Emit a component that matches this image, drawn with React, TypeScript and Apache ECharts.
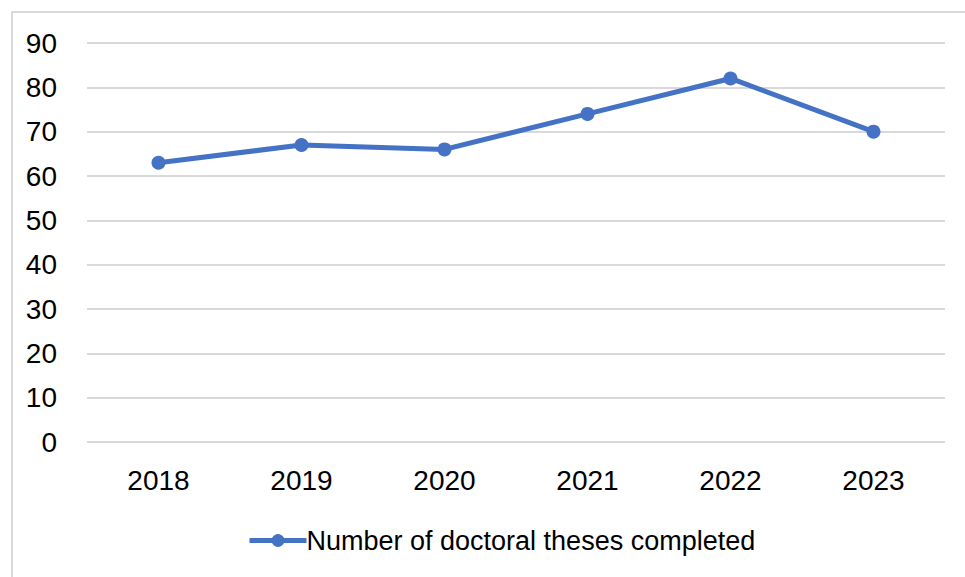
import React, { useEffect, useRef } from "react";
import * as echarts from "echarts";

const years = ["2018", "2019", "2020", "2021", "2022", "2023"];
const theses = [63, 67, 66, 74, 82, 70];
const seriesName = "Number of doctoral theses completed";

const FONT = '"Liberation Sans", Arial, sans-serif';

export default function App() {
  const ref = useRef<HTMLDivElement>(null);
  useEffect(() => {
    if (!ref.current) return;
    const chart = echarts.init(ref.current, undefined, { renderer: "svg" });
    chart.setOption({
      animation: false,
      backgroundColor: "#ffffff",
      textStyle: { fontFamily: FONT },
      graphic: [
        {
          type: "rect",
          shape: { x: 12, y: 12, width: 1000, height: 700 },
          style: { fill: "none", stroke: "#d9d9d9", lineWidth: 2 },
          silent: true,
          z: -1,
        },
      ],
      grid: { left: 87, right: 20, top: 43, bottom: 135, containLabel: false },
      legend: {
        left: 242,
        top: 522,
        itemWidth: 57,
        itemHeight: 16,
        itemGap: 10,
        lineStyle: { width: 5, color: "#4472c4" },
        itemStyle: { color: "#4472c4" },
        textStyle: { fontSize: 27, color: "#000", fontFamily: FONT, padding: [0, 0, 0, -5] },
        data: [seriesName],
      },
      xAxis: {
        type: "category",
        data: years,
        boundaryGap: true,
        axisLine: { show: false },
        axisTick: { show: false },
        axisLabel: { fontSize: 28, color: "#000", margin: 24, fontFamily: FONT },
      },
      yAxis: {
        type: "value",
        min: 0,
        max: 90,
        interval: 10,
        axisLine: { show: false },
        axisTick: { show: false },
        axisLabel: { fontSize: 28, color: "#000", margin: 30, fontFamily: FONT },
        splitLine: { lineStyle: { color: "#d9d9d9", width: 2 } },
      },
      series: [
        {
          name: seriesName,
          type: "line",
          data: theses,
          symbol: "circle",
          symbolSize: 14,
          lineStyle: { color: "#4472c4", width: 5 },
          itemStyle: { color: "#4472c4" },
        },
      ],
    });
    return () => chart.dispose();
  }, []);
  return (
    <div
      ref={ref}
      style={{ position: "fixed", left: 0, top: 0, width: 965, height: 577 }}
    />
  );
}
